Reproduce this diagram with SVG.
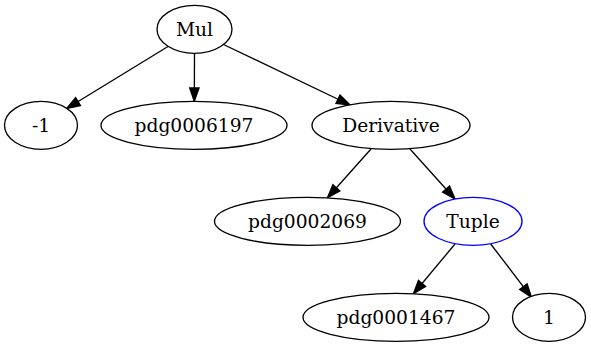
<svg xmlns="http://www.w3.org/2000/svg" width="591" height="347" viewBox="0 0 591 347">
<style>
.n ellipse{fill:#fff;stroke:#000;stroke-width:1.33}
.n text{font-family:"DejaVu Serif","Liberation Serif",serif;font-size:18.67px;text-anchor:middle;fill:#000}
#edges line{stroke:#000;stroke-width:1.33;marker-end:url(#arr)}
</style>
<defs>
<marker id="arr" markerUnits="userSpaceOnUse" markerWidth="16" markerHeight="12" refX="13.33" refY="5" orient="auto" viewBox="-1 0 16 10">
<path d="M0,0.33 L13.33,5 L0,9.67 z" fill="#000" stroke="#000" stroke-width="1.33"/>
</marker>
</defs>
<rect width="591" height="347" fill="#fff"/>
<g id="edges">
<line x1="168" y1="46.5" x2="66.7" y2="108.5"/>
<line x1="194.5" y1="53.3" x2="194.3" y2="101.3"/>
<line x1="223.5" y1="44.5" x2="350" y2="105"/>
<line x1="371" y1="149" x2="327.5" y2="197.8"/>
<line x1="410" y1="149" x2="455" y2="199"/>
<line x1="455" y1="244" x2="413.5" y2="293.7"/>
<line x1="490.7" y1="244" x2="531.5" y2="297.3"/>
</g>
<g id="n_mul" class="n"><ellipse cx="194.5" cy="29.3" rx="37.5" ry="24"/><text x="194.5" y="35.5">Mul</text></g>
<g id="n_m1" class="n"><ellipse cx="41" cy="125.3" rx="36.5" ry="24"/><text x="41" y="131.5">-1</text></g>
<g id="n_pdg0006197" class="n"><ellipse cx="194" cy="125.3" rx="93" ry="24"/><text x="194" y="131.5">pdg0006197</text></g>
<g id="n_derivative" class="n"><ellipse cx="391" cy="125.3" rx="79" ry="24"/><text x="391" y="131.5">Derivative</text></g>
<g id="n_pdg0002069" class="n"><ellipse cx="307.5" cy="221.3" rx="93" ry="24"/><text x="307.5" y="227.5">pdg0002069</text></g>
<g id="n_tuple" class="n"><ellipse cx="473" cy="221.3" rx="49" ry="24" style="stroke:#0000ff"/><text x="473" y="227.5">Tuple</text></g>
<g id="n_pdg0001467" class="n"><ellipse cx="396" cy="317.3" rx="93" ry="24"/><text x="396" y="323.5">pdg0001467</text></g>
<g id="n_1" class="n"><ellipse cx="549" cy="317.3" rx="36.5" ry="24"/><text x="549" y="323.5">1</text></g>
</svg>
